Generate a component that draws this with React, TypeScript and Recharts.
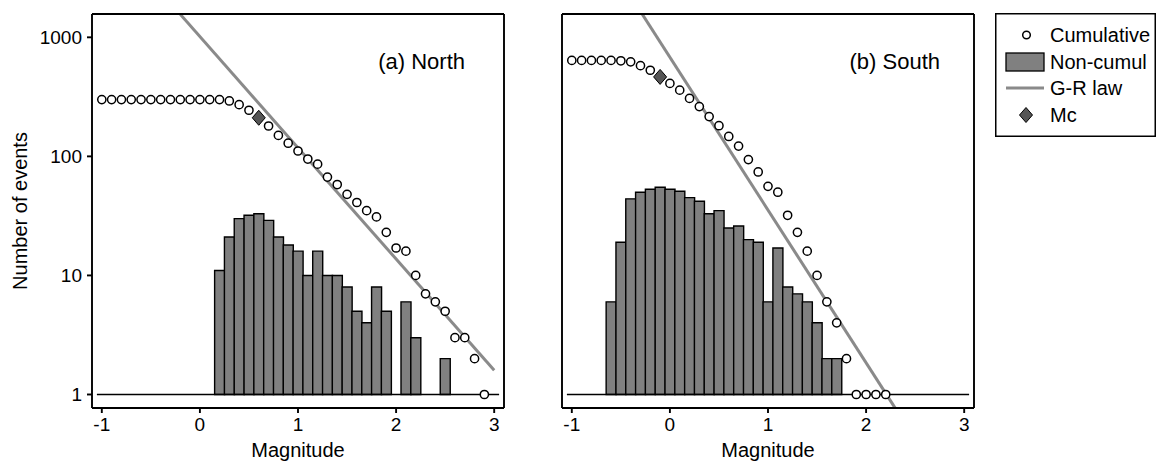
import React from 'react';
import { ComposedChart, Bar, Line, Scatter, XAxis, YAxis, ReferenceLine } from 'recharts';

const FONT = '"Liberation Sans", Arial, Helvetica, sans-serif';

// (a) North - cumulative counts, magnitudes -1.0 .. 2.9
const northCumMag = [
  -1.0, -0.9, -0.8, -0.7, -0.6, -0.5, -0.4, -0.3, -0.2, -0.1, 0.0, 0.1, 0.2, 0.3, 0.4, 0.5, 0.6, 0.7, 0.8, 0.9,
  1.0, 1.1, 1.2, 1.3, 1.4, 1.5, 1.6, 1.7, 1.8, 1.9, 2.0, 2.1, 2.2, 2.3, 2.4, 2.5, 2.6, 2.7, 2.8, 2.9,
];
const northCumCount = [
  300, 300, 300, 300, 300, 300, 300, 300, 300, 300, 300, 300, 300, 292, 272, 244, 211, 180, 150, 129,
  111, 95, 86, 67, 58, 48, 41, 35, 31, 23, 17, 16, 10, 7, 6, 5, 3, 3, 2, 1,
];
// (a) North - non-cumulative histogram
const northBinMag = [0.2, 0.3, 0.4, 0.5, 0.6, 0.7, 0.8, 0.9, 1.0, 1.1, 1.2, 1.3, 1.4, 1.5, 1.6, 1.7, 1.8, 1.9, 2.1, 2.2, 2.5];
const northBinCount = [11, 21, 30, 32, 33, 29, 21, 18, 16, 10, 16, 10, 10, 8, 5, 4, 8, 5, 6, 3, 2];
// G-R law end points and Mc
const northGrMag = [-0.2, 3.0];
const northGrCount = [1560, 1.6];
const northMc = { m: 0.6, n: 211 };

// (b) South
const southCumMag = [
  -1.0, -0.9, -0.8, -0.7, -0.6, -0.5, -0.4, -0.3, -0.2, -0.1, 0.0, 0.1, 0.2, 0.3, 0.4, 0.5, 0.6, 0.7, 0.8, 0.9,
  1.0, 1.1, 1.2, 1.3, 1.4, 1.5, 1.6, 1.7, 1.8, 1.9, 2.0, 2.1, 2.2,
];
const southCumCount = [
  640, 640, 640, 640, 640, 635, 622, 578, 529, 465, 410, 360, 307, 262, 216, 181, 147, 122, 94, 74,
  56, 50, 32, 23, 16, 10, 6, 4, 2, 1, 1, 1, 1,
];
const southBinMag = [
  -0.6, -0.5, -0.4, -0.3, -0.2, -0.1, 0.0, 0.1, 0.2, 0.3, 0.4, 0.5, 0.6, 0.7, 0.8, 0.9, 1.0, 1.1, 1.2, 1.3, 1.4, 1.5, 1.6, 1.7,
];
const southBinCount = [6, 19, 44, 50, 53, 55, 53, 51, 45, 42, 33, 35, 25, 26, 20, 19, 6, 17, 8, 7, 6, 4, 2, 2];
const southGrMag = [-0.3, 2.3];
const southGrCount = [1650, 0.76];
const southMc = { m: -0.1, n: 465 };

const xTicks = [-1, 0, 1, 2, 3];
const yTicks = [1, 10, 100, 1000];

const zip = (ms: number[], ns: number[]) => ms.map((m, i) => ({ m, n: ns[i] }));
// bars go from the 1-event line up to the count
const bins = (ms: number[], ns: number[]) => ms.map((m, i) => ({ m, n: [1, ns[i]] }));

const axisStroke = { stroke: '#000', strokeWidth: 1.9 };
const tickFont = { fill: '#000', fontSize: 19, fontFamily: FONT };

const CircleDot = (p: any) => (
  <circle cx={p.cx} cy={p.cy} r={4.1} fill="#fff" stroke="#000" strokeWidth={1.5} />
);

const Diamond = (p: any) => (
  <polygon
    points={`${p.cx},${p.cy - 7.5} ${p.cx + 6.5},${p.cy} ${p.cx},${p.cy + 7.5} ${p.cx - 6.5},${p.cy}`}
    fill="#555"
    stroke="#000"
    strokeWidth={1}
  />
);

const YTitle = (props: any) => {
  const vb = props.viewBox || {};
  const x = (vb.x || 0) + 20;
  const y = (vb.y || 0) + (vb.height || 0) / 2;
  return (
    <text
      x={x}
      y={y}
      transform={`rotate(-90, ${x}, ${y})`}
      textAnchor="middle"
      dominantBaseline="central"
      fill="#000"
      fontSize={20}
      fontFamily={FONT}
    >
      Number of events
    </text>
  );
};

interface PanelProps {
  hist: { m: number; n: number[] }[];
  cum: { m: number; n: number }[];
  gr: { m: number; n: number }[];
  mc: { m: number; n: number };
  labels: boolean;
}

function Panel({ hist, cum, gr, mc, labels }: PanelProps) {
  return (
    <ComposedChart
      width={520}
      height={464}
      data={hist}
      margin={{ top: 13, right: 15, bottom: 0, left: 0 }}
      barCategoryGap={0}
      barGap={0}
    >
      <XAxis
        dataKey="m"
        type="number"
        domain={[-1.1, 3.1]}
        ticks={xTicks}
        allowDataOverflow
        height={56}
        tickSize={5}
        tickMargin={5}
        axisLine={axisStroke}
        tickLine={axisStroke}
        tick={tickFont}
        label={{ value: 'Magnitude', position: 'insideBottom', offset: 7, fill: '#000', fontSize: 20, fontFamily: FONT }}
      />
      <XAxis
        xAxisId="top"
        orientation="top"
        type="number"
        domain={[-1.1, 3.1]}
        ticks={xTicks}
        allowDataOverflow
        height={1}
        tickSize={5}
        axisLine={axisStroke}
        tickLine={axisStroke}
        tick={false}
      />
      <YAxis
        scale="log"
        type="number"
        domain={[0.77, 1570]}
        ticks={yTicks}
        allowDataOverflow
        width={92}
        tickSize={5}
        tickMargin={5}
        axisLine={axisStroke}
        tickLine={axisStroke}
        tick={labels ? tickFont : false}
        label={labels ? { content: YTitle } : undefined}
      />
      <YAxis
        yAxisId="r"
        orientation="right"
        scale="log"
        type="number"
        domain={[0.77, 1570]}
        ticks={yTicks}
        allowDataOverflow
        width={1}
        tickSize={5}
        axisLine={axisStroke}
        tickLine={axisStroke}
        tick={false}
      />
      <Bar dataKey="n" fill="#808080" stroke="#000" strokeWidth={1.4} isAnimationActive={false} />
      <ReferenceLine
        segment={[
          { x: -1.05, y: 1 },
          { x: 3.05, y: 1 },
        ]}
        stroke="#000"
        strokeWidth={1.3}
      />
      <Line
        data={gr}
        dataKey="n"
        type="linear"
        stroke="#8a8a8a"
        strokeWidth={3}
        dot={false}
        activeDot={false}
        isAnimationActive={false}
      />
      <Scatter data={cum} dataKey="n" shape={CircleDot} isAnimationActive={false} />
      <Scatter data={[mc]} dataKey="n" shape={Diamond} isAnimationActive={false} />
    </ComposedChart>
  );
}

function LegendBox() {
  const rows = [22, 49, 75, 102];
  const textStyle = { fontSize: 20, fontFamily: FONT, fill: '#000' };
  return (
    <svg width={161} height={124} style={{ position: 'absolute', left: 995, top: 13 }}>
      <rect x={0.75} y={0.75} width={159.5} height={122.5} fill="#fff" stroke="#000" strokeWidth={1.5} />
      <circle cx={31.5} cy={rows[0]} r={3.8} fill="#fff" stroke="#000" strokeWidth={1.5} />
      <text x={55} y={rows[0]} dominantBaseline="central" {...textStyle}>Cumulative</text>
      <rect x={11} y={rows[1] - 9} width={38} height={18} fill="#808080" stroke="#000" strokeWidth={1.3} />
      <text x={55} y={rows[1]} dominantBaseline="central" {...textStyle}>Non-cumul</text>
      <line x1={11} x2={49} y1={rows[2]} y2={rows[2]} stroke="#8a8a8a" strokeWidth={3} />
      <text x={55} y={rows[2]} dominantBaseline="central" {...textStyle}>G-R law</text>
      <polygon
        points={`31,${rows[3] - 7.5} 37.5,${rows[3]} 31,${rows[3] + 7.5} 24.5,${rows[3]}`}
        fill="#555"
        stroke="#000"
        strokeWidth={1}
      />
      <text x={55} y={rows[3]} dominantBaseline="central" {...textStyle}>Mc</text>
    </svg>
  );
}

const titleStyle = (right: number): React.CSSProperties => ({
  position: 'absolute',
  right: 1160 - right,
  top: 50,
  fontSize: 22,
  lineHeight: '24px',
  fontFamily: FONT,
  color: '#000',
  whiteSpace: 'nowrap',
});

export default function App() {
  return (
    <div style={{ position: 'absolute', left: 0, top: 0, width: 1160, height: 464, background: '#fff' }}>
      <div style={{ position: 'absolute', left: 0, top: 0 }}>
        <Panel
          hist={bins(northBinMag, northBinCount)}
          cum={zip(northCumMag, northCumCount)}
          gr={zip(northGrMag, northGrCount)}
          mc={northMc}
          labels
        />
      </div>
      <div style={{ position: 'absolute', left: 470, top: 0 }}>
        <Panel
          hist={bins(southBinMag, southBinCount)}
          cum={zip(southCumMag, southCumCount)}
          gr={zip(southGrMag, southGrCount)}
          mc={southMc}
          labels={false}
        />
      </div>
      <div style={titleStyle(465)}>(a) North</div>
      <div style={titleStyle(940)}>(b) South</div>
      <LegendBox />
    </div>
  );
}
